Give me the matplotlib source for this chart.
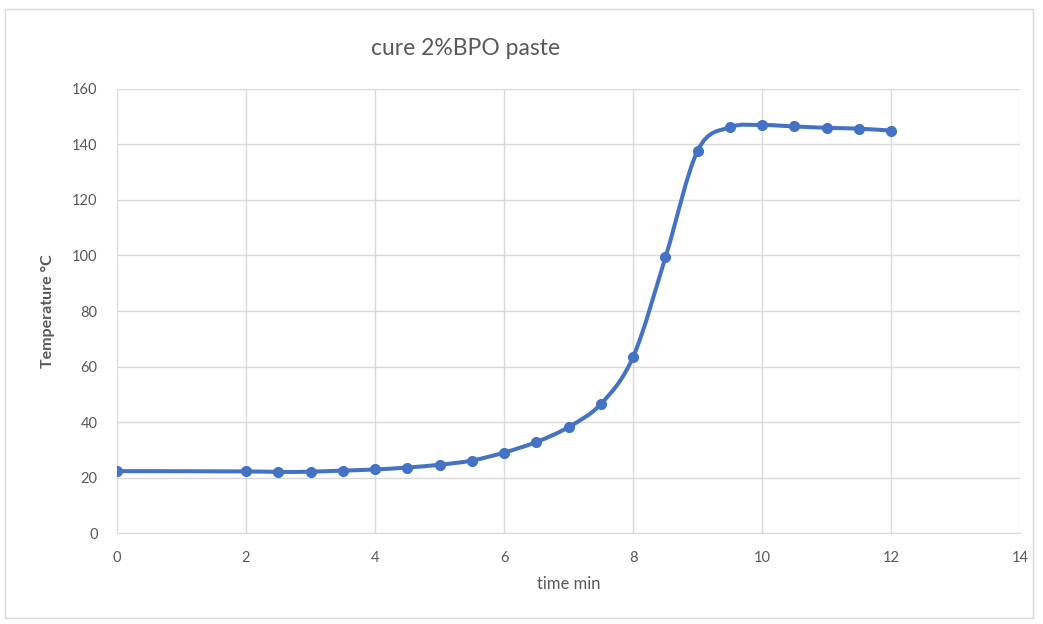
import numpy as np
import matplotlib.pyplot as plt
from matplotlib.path import Path
from matplotlib.patches import PathPatch, Rectangle

time_min = np.array([0, 2, 2.5, 3, 3.5, 4, 4.5, 5, 5.5, 6, 6.5, 7,
                     7.5, 8, 8.5, 9, 9.5, 10, 10.5, 11, 11.5, 12])
temp_c = np.array([22.3, 22.2, 22.0, 22.1, 22.5, 22.9, 23.6, 24.6, 26.1, 29.0, 32.8, 38.2,
                   46.5, 63.5, 99.3, 137.8, 146.2, 147.0, 146.5, 146.0, 145.7, 145.0])

blue = "#4472C4"
grey = "#595959"

plt.rcParams['font.family'] = ['Lato', 'DejaVu Sans']

fig = plt.figure(figsize=(10.43, 6.24), dpi=100)
ax = fig.add_axes([0.1122, 0.1458, 0.8660, 0.7116])

# smooth line like Excel: bezier segments through the points (Catmull-Rom control points)
verts = [(time_min[0], temp_c[0])]
codes = [Path.MOVETO]
n = len(time_min)
for i in range(n - 1):
    p0 = np.array([time_min[max(i - 1, 0)], temp_c[max(i - 1, 0)]])
    p1 = np.array([time_min[i], temp_c[i]])
    p2 = np.array([time_min[i + 1], temp_c[i + 1]])
    p3 = np.array([time_min[min(i + 2, n - 1)], temp_c[min(i + 2, n - 1)]])
    c1 = p1 + (p2 - p0) / 6
    c2 = p2 - (p3 - p1) / 6
    verts += [tuple(c1), tuple(c2), tuple(p2)]
    codes += [Path.CURVE4] * 3
ax.add_patch(PathPatch(Path(verts, codes), fill=False, edgecolor=blue, lw=2.9,
                       capstyle='round', joinstyle='round', zorder=3))
ax.plot(time_min, temp_c, 'o', color=blue, ms=7, zorder=4)

ax.set_xlim(0, 14)
ax.set_ylim(0, 160)
ax.set_xticks(np.arange(0, 15, 2))
ax.set_yticks(np.arange(0, 161, 20))
ax.grid(color="#d9d9d9", lw=1)
ax.set_axisbelow(True)
for s in ['top', 'right', 'left']:
    ax.spines[s].set_visible(False)
ax.spines['bottom'].set_color("#d9d9d9")
ax.tick_params(length=0, labelsize=10.5, labelcolor=grey)
ax.tick_params(axis='x', pad=13)
ax.tick_params(axis='y', pad=14)

ax.set_xlabel("time min", fontsize=12, color=grey, labelpad=8)
ax.set_ylabel("Temperature °C", fontsize=11.5, color=grey, fontweight='bold', labelpad=12)
fig.text(0.446, 0.922, "cure 2%BPO paste", fontsize=16.5, color=grey, ha='center', va='center')

fig.patches.append(Rectangle((0.005, 0.01), 0.985, 0.975, transform=fig.transFigure,
                             fill=False, edgecolor="#d9d9d9", lw=1))

fig.savefig("out.png", dpi=100)
